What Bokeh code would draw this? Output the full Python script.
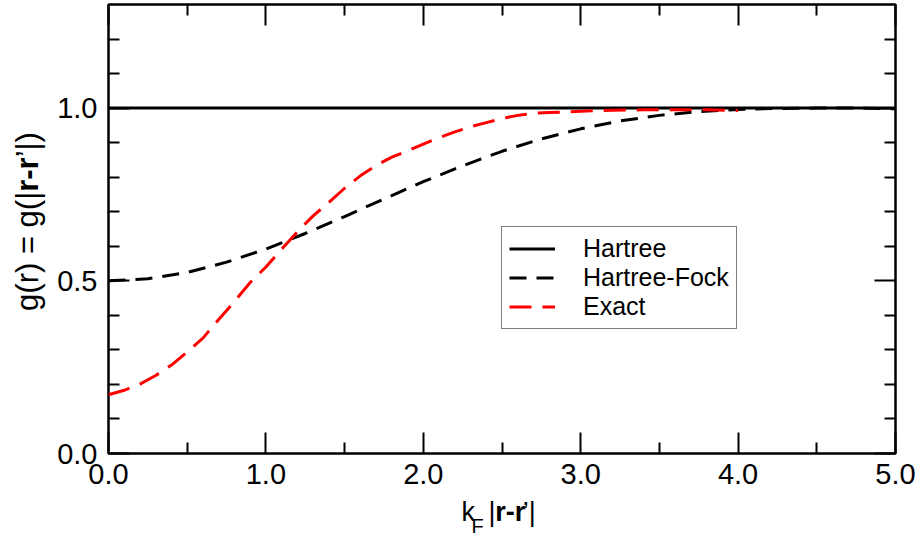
import math
from bokeh.plotting import figure
from bokeh.models import (Range1d, FixedTicker, LinearAxis, Legend, LegendItem,
                          Label, PrintfTickFormatter)
from bokeh.layouts import row, column
from bokeh.embed import file_html
from bokeh.resources import INLINE

# ---------------- data ----------------
hartree_x = [0.0, 5.0]
hartree_y = [1.0, 1.0]

hf_x = [0.0, 0.25, 0.5, 0.75, 1.0, 1.25, 1.5, 1.75, 2.0, 2.25, 2.5, 2.75,
        3.0, 3.25, 3.5, 3.75, 4.0, 4.25, 4.5, 4.75, 5.0]
hf_y = [0.500, 0.506, 0.524, 0.554, 0.592, 0.637, 0.686, 0.737, 0.787, 0.833,
        0.875, 0.911, 0.940, 0.963, 0.979, 0.990, 0.996, 0.999, 1.000, 1.000, 0.998]

exact_x = [0.0, 0.1, 0.2, 0.3, 0.4, 0.5, 0.6, 0.7, 0.8, 0.9, 1.0, 1.1, 1.2, 1.3,
           1.4, 1.5, 1.6, 1.7, 1.8, 1.9, 2.0, 2.1, 2.2, 2.3, 2.4, 2.5, 2.6, 2.7,
           2.8, 2.9, 3.0, 3.2, 3.4, 3.6, 3.8, 4.0]
exact_y = [0.170, 0.183, 0.201, 0.226, 0.256, 0.294, 0.334, 0.388, 0.440, 0.495,
           0.540, 0.592, 0.642, 0.688, 0.727, 0.768, 0.804, 0.834, 0.858, 0.876,
           0.896, 0.914, 0.931, 0.946, 0.958, 0.970, 0.979, 0.985, 0.987, 0.989,
           0.991, 0.994, 0.995, 0.995, 0.995, 0.993]

x_major = [0.0, 1.0, 2.0, 3.0, 4.0, 5.0]
x_minor = [0.5, 1.5, 2.5, 3.5, 4.5]
y_major = [0.0, 0.5, 1.0]
y_minor = [0.1, 0.2, 0.3, 0.4, 0.6, 0.7, 0.8, 0.9, 1.1, 1.2]

series_names = ["Hartree", "Hartree-Fock", "Exact"]

FONT = "Liberation Sans"

# ---------------- geometry of the composed page ----------------
TOTAL_W, TOTAL_H = 920, 537
YLAB_W = 46            # strip holding the rotated y title
MAIN_H = 496           # main plot canvas height
XLAB_H = TOTAL_H - MAIN_H
MAIN_W = TOTAL_W - YLAB_W
XSTRIP_SHIFT = 21      # measured offset of the x-title strip's coordinates

# ---------------- main figure ----------------
p = figure(width=MAIN_W, height=MAIN_H, x_range=Range1d(0, 5), y_range=Range1d(0, 1.3),
           output_backend="svg", toolbar_location=None,
           min_border_left=62, min_border_right=25, min_border_top=4,
           min_border_bottom=43)
p.grid.visible = False
p.outline_line_color = "black"
p.outline_line_width = 2.5
p.background_fill_color = "white"
p.border_fill_color = "white"


def style_axis(ax, ticks, minor, show_labels, standoff):
    ax.ticker = FixedTicker(ticks=ticks, minor_ticks=minor)
    ax.formatter = PrintfTickFormatter(format="%.1f")
    ax.axis_line_color = None
    ax.major_tick_in = 21
    ax.major_tick_out = 0
    ax.minor_tick_in = 11
    ax.minor_tick_out = 0
    ax.major_tick_line_width = 2
    ax.minor_tick_line_width = 2
    ax.major_tick_line_color = "black"
    ax.minor_tick_line_color = "black"
    ax.axis_label = None
    ax.major_label_text_font = FONT
    ax.major_label_text_font_size = "29px"
    ax.major_label_text_color = "black"
    ax.major_label_standoff = standoff
    if not show_labels:
        ax.major_label_overrides = {t: "" for t in ticks}
        ax.major_label_standoff = 0


style_axis(p.xaxis[0], x_major, x_minor, True, 10)
style_axis(p.yaxis[0], y_major, y_minor, True, 11)

top_axis = LinearAxis()
style_axis(top_axis, x_major, x_minor, False, 0)
p.add_layout(top_axis, "above")
right_axis = LinearAxis()
style_axis(right_axis, y_major, y_minor, False, 0)
p.add_layout(right_axis, "right")

# ---------------- series ----------------
r_h = p.line(hartree_x, hartree_y, line_color="black", line_width=3)
r_hf = p.line(hf_x, hf_y, line_color="black", line_width=3, line_dash="17 10")
r_ex = p.line(exact_x, exact_y, line_color="#ff0000", line_width=3, line_dash="22 11")

legend = Legend(items=[LegendItem(label=series_names[0], renderers=[r_h]),
                       LegendItem(label=series_names[1], renderers=[r_hf]),
                       LegendItem(label=series_names[2], renderers=[r_ex])],
                location=(393, 124))
legend.label_text_font = FONT
legend.label_text_font_size = "25px"
legend.label_text_color = "black"
legend.glyph_width = 46
legend.glyph_height = 29
legend.label_height = 29
legend.label_standoff = 28
legend.spacing = 0
legend.padding = 7
legend.margin = 0
legend.border_line_color = "black"
legend.border_line_width = 1.5
legend.background_fill_color = "white"
legend.background_fill_alpha = 1.0
p.add_layout(legend)

# ---------------- axis titles (composed pieces in their own strips) ----------------
W_REG = {"k": 500, "F": 611, "|": 260, "\u2019": 222, ")": 333, "(": 333,
         "g": 556, "r": 333, " ": 278, "=": 584, "-": 333}
W_BOLD = {"r": 389, "-": 333}


def width(s, size, bold=False):
    tbl = W_BOLD if bold else W_REG
    return sum(tbl[c] for c in s) * size / 1000.0


def strip(w, h):
    f = figure(width=w, height=h, x_range=Range1d(0, w), y_range=Range1d(0, h),
               output_backend="svg", toolbar_location=None,
               x_axis_location=None, y_axis_location=None,
               min_border=0, min_border_left=0, min_border_right=0,
               min_border_top=0, min_border_bottom=0)
    f.outline_line_color = None
    f.grid.visible = False
    f.background_fill_color = "white"
    f.border_fill_color = "white"
    return f


def add_text(fig, txt, x, y, size, bold=False, angle=0.0):
    fig.add_layout(Label(x=x, y=y, text=txt,
                         text_font=FONT, text_font_size=f"{size}px",
                         text_font_style="bold" if bold else "normal",
                         text_color="black", text_align="left",
                         text_baseline="alphabetic", angle=angle))


# x title: k_F|r-r'|
xl = strip(MAIN_W, XLAB_H)
S, SS = 27, 20
x0 = 459 - YLAB_W - XSTRIP_SHIFT
yc_main = 25.4
yc_sub = 11.9
add_text(xl, "k", x0, yc_main, S)
add_text(xl, "F", x0 + 11, yc_sub, SS)
xc = x0 + 30
add_text(xl, "|", xc, yc_main, S)
xc += width("|", S) + 0.5
add_text(xl, "r-r", xc, yc_main, S, bold=True)
xc += width("r-r", S, True) + 0.5
add_text(xl, "\u2019|", xc, yc_main, S)

# y title: g(r) = g(|r-r'|) rotated, reading upward
yl = strip(YLAB_W, TOTAL_H)
S2 = 31
total = width("g(r) = g(|", S2) + width("r-r", S2, True) + width("\u2019|)", S2)
yc = (TOTAL_H - 221) - total / 2.0
bx = 27
add_text(yl, "g(r) = g(|", bx, yc, S2, angle=math.pi / 2)
yc += width("g(r) = g(|", S2)
add_text(yl, "r-r", bx, yc, S2, bold=True, angle=math.pi / 2)
yc += width("r-r", S2, True)
add_text(yl, "\u2019|)", bx, yc, S2, angle=math.pi / 2)

layout = row(yl, column(p, xl, spacing=0), spacing=0)

open("out.html", "w").write(file_html(layout, INLINE))
